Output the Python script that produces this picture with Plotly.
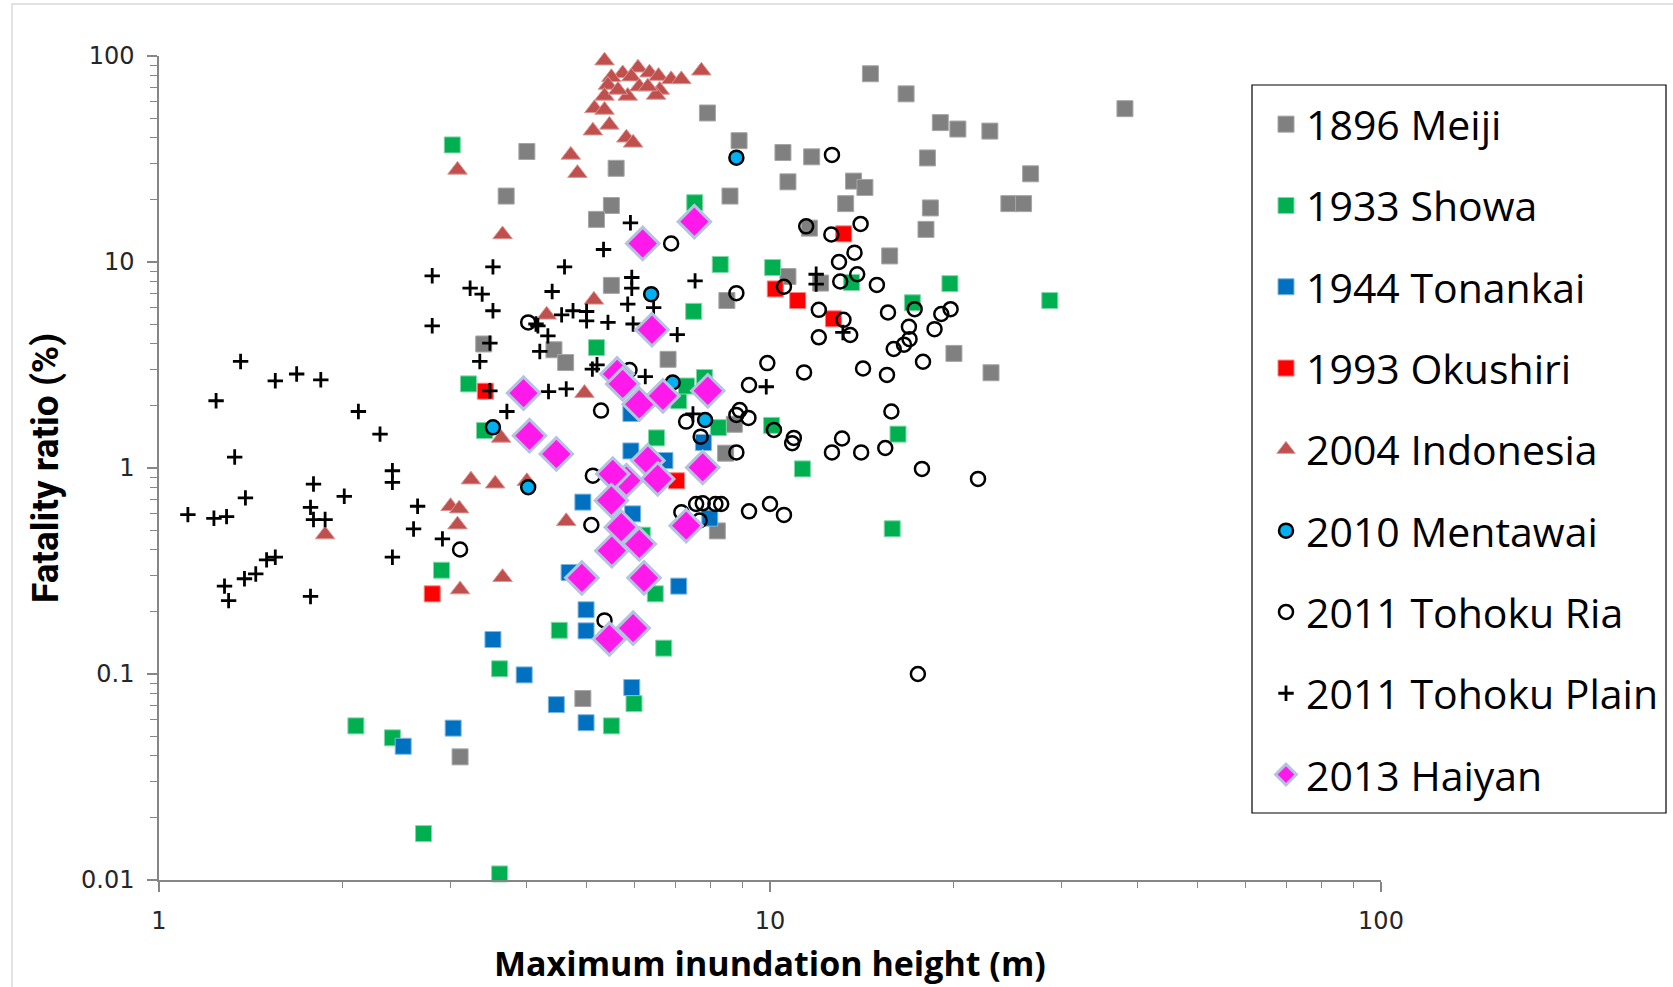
import plotly.graph_objects as go

# ---------------- data ----------------
meiji_x = [14.6, 16.7, 38.1, 7.9, 19.0, 20.3, 22.9, 8.9, 4.0, 10.5, 11.7, 18.1, 5.6, 26.7, 13.7, 10.7,
           14.3, 3.7, 8.6, 13.3, 24.6, 26.0, 5.5, 18.3, 5.2, 18.0, 11.6, 15.7, 5.5, 8.5, 10.7, 12.1,
           20.0, 23.0, 3.4, 4.43, 4.63, 6.81, 8.46, 8.74, 8.2, 4.94, 3.11]
meiji_y = [82, 65.5, 55.5, 52.9, 47.5, 44.2, 43.2, 38.8, 34.4, 34, 32.4, 32, 28.5, 26.8, 24.7, 24.5,
           23, 20.9, 20.9, 19.2, 19.2, 19.2, 18.8, 18.3, 16.1, 14.4, 14.6, 10.7, 7.7, 6.5, 8.5, 7.9,
           3.6, 2.9, 4.0, 3.75, 3.25, 3.37, 1.18, 1.63, 0.495, 0.076, 0.0396]

showa_x = [3.02, 7.53, 8.29, 10.1, 13.6, 17.1, 19.7, 28.7, 10.06, 16.2, 11.3, 15.85, 7.5, 5.2, 3.21,
           3.41, 6.52, 8.23, 7.09, 7.81, 7.3, 6.18, 2.9, 6.49, 4.52, 6.7, 3.61, 5.99, 5.5, 2.1, 2.41,
           2.71, 3.61]
showa_y = [37.0, 19.4, 9.73, 9.4, 7.95, 6.34, 7.85, 6.5, 1.61, 1.46, 0.99, 0.507, 5.76, 3.84, 2.56,
           1.52, 1.40, 1.57, 2.12, 2.75, 2.5, 0.472, 0.319, 0.245, 0.163, 0.1335, 0.106, 0.0718, 0.056,
           0.056, 0.049, 0.0168, 0.0107]

tonankai_x = [4.94, 5.96, 7.97, 4.69, 7.09, 5.0, 5.0, 3.52, 3.96, 5.94, 4.47, 5.0, 3.03, 2.51,
              5.92, 5.92, 6.73, 7.78]
tonankai_y = [0.683, 0.599, 0.571, 0.311, 0.267, 0.205, 0.162, 0.147, 0.099, 0.086, 0.071, 0.058,
              0.0546, 0.0446, 1.84, 1.21, 1.087, 1.33]

okushiri_x = [13.2, 10.2, 11.1, 12.7, 3.42, 7.03, 2.8]
okushiri_y = [13.7, 7.4, 6.5, 5.3, 2.36, 0.867, 0.245]

indonesia_x = [5.36, 7.72, 6.08, 5.74, 6.35, 6.57, 6.89, 7.16, 5.50, 5.93, 5.43, 6.11, 6.60, 5.36,
               5.85, 6.51, 5.16, 5.36, 5.46, 5.13, 5.82, 5.97, 5.64, 6.31,
               4.72, 4.84, 3.08, 3.65, 5.15, 4.31, 4.97, 3.63, 3.24, 3.55, 4.0, 3.0, 3.10, 3.08,
               3.65, 3.11, 4.64, 1.87]
indonesia_y = [94.9, 84.8, 87.7, 82.3, 83, 79.9, 77, 77, 78.8, 79.4, 72.3, 71, 68.4, 64,
               64, 64.7, 55.7, 54.7, 46.3, 43.4, 40.1, 37.9, 68.4, 71,
               33.1, 27, 28, 13.6, 6.55, 5.54, 2.31, 1.40, 0.878, 0.839, 0.862, 0.652, 0.635, 0.531,
               0.295, 0.257, 0.551, 0.475]

mentawai_x = [8.81, 6.39, 6.93, 7.83, 3.52, 4.02]
mentawai_y = [32.1, 6.98, 2.60, 1.71, 1.575, 0.806]

ria_x = [12.63, 11.46, 12.6, 14.07, 13.75, 12.97, 13.89, 13.03, 14.96, 10.54, 8.81, 12.02, 13.19,
         15.6, 17.25, 19.07, 19.75, 16.88, 18.59, 12.02, 13.53, 16.92, 16.57, 15.94, 17.8, 14.2,
         15.54, 9.9, 11.37, 9.24, 15.8, 8.92, 8.81, 9.22, 10.15, 10.94, 10.87, 13.12, 12.63, 14.1,
         15.44, 8.81, 17.73, 21.9, 8.32, 9.24, 10.0, 10.54, 4.02, 5.89, 5.29, 7.29, 7.7, 5.13,
         3.11, 5.1, 5.36, 7.16, 7.57, 7.76, 8.14, 7.67, 17.46, 6.89]
ria_y = [33.1, 14.9, 13.6, 15.3, 11.1, 10.0, 8.72, 8.04, 7.74, 7.58, 7.06, 5.86, 5.24,
         5.69, 5.9, 5.59, 5.9, 4.85, 4.72, 4.31, 4.42, 4.22, 3.97, 3.78, 3.28, 3.04,
         2.83, 3.23, 2.91, 2.53, 1.88, 1.91, 1.81, 1.75, 1.53, 1.40, 1.32, 1.39, 1.19, 1.19,
         1.25, 1.19, 0.99, 0.885, 0.669, 0.616, 0.669, 0.592, 5.09, 2.99, 1.90, 1.68, 1.42, 0.918,
         0.402, 0.529, 0.182, 0.61, 0.669, 0.674, 0.669, 0.556, 0.1, 12.3]

plain_x = [2.80, 3.52, 3.23, 3.38, 3.52, 2.80, 4.61, 4.40, 4.56, 4.17, 4.33, 1.36, 1.24, 1.55, 1.68,
           1.84, 2.12, 2.30, 1.33, 2.41, 2.41, 1.79, 1.385, 2.01, 1.115, 1.23, 1.29, 1.77, 1.79, 1.87,
           2.65, 2.61, 2.91, 2.41, 1.55, 1.50, 1.44, 1.38, 1.28, 1.30, 1.77, 3.48, 3.35, 3.48, 3.71,
           4.20, 4.34, 4.64, 5.94, 5.94, 5.85, 7.54, 6.45, 4.76, 5.01, 5.01, 5.43, 5.97, 7.05, 4.14,
           5.12, 5.21, 6.25, 7.48, 5.91, 5.34, 11.9, 11.9, 9.86, 13.16]
plain_y = [8.57, 9.47, 7.46, 6.98, 5.80, 4.90, 9.47, 7.19, 5.54, 4.90, 4.38, 3.29, 2.12, 2.65, 2.86,
           2.68, 1.88, 1.46, 1.13, 0.97, 0.852, 0.836, 0.716, 0.729, 0.594, 0.57, 0.581, 0.644, 0.562,
           0.562, 0.652, 0.506, 0.453, 0.369, 0.369, 0.358, 0.306, 0.29, 0.267, 0.227, 0.238, 4.04,
           3.29, 2.37, 1.88, 3.68, 2.35, 2.42, 8.41, 7.46, 6.24, 8.1, 6.0, 5.8, 5.75, 5.18, 5.09, 5.0,
           4.44, 5.0, 3.02, 3.17, 2.78, 1.83, 15.5, 11.5, 8.72, 7.81, 2.48, 4.55]

haiyan_x = [7.52, 6.19, 6.41, 3.95, 4.04, 4.47, 5.62, 5.74, 6.11, 6.68, 7.91, 7.76, 6.31, 6.55,
            5.82, 5.53, 5.50, 5.71, 6.11, 5.51, 7.29, 4.92, 6.22, 5.97, 5.46]
haiyan_y = [15.7, 12.3, 4.69, 2.31, 1.435, 1.17, 2.86, 2.56, 2.04, 2.24, 2.37, 1.007, 1.086, 0.885,
            0.868, 0.935, 0.695, 0.516, 0.428, 0.397, 0.525, 0.293, 0.293, 0.167, 0.148]

y_tickvals = [0.01, 0.1, 1, 10, 100]
y_ticktext = ["0.01", "0.1", "1", "10", "100"]
x_tickvals = [1, 10, 100]
x_ticktext = ["1", "10", "100"]

# ---------------- figure ----------------
W, H = 1673, 987
ML, MR, MT, MB = 159, 292, 56, 107
PW, PH = W - ML - MR, H - MT - MB


def px_x(p):
    return (p - ML) / PW


def px_y(p):
    return (H - MB - p) / PH


series = [
    ("1896 Meiji", meiji_x, meiji_y, dict(symbol="square", size=16, color="#808080",
                                           line=dict(color="#A6A6A6", width=1))),
    ("1933 Showa", showa_x, showa_y, dict(symbol="square", size=16, color="#00B050",
                                           line=dict(color="#7FD8A8", width=1))),
    ("1944 Tonankai", tonankai_x, tonankai_y, dict(symbol="square", size=16, color="#0070C0",
                                                    line=dict(color="#7FB7E0", width=1))),
    ("1993 Okushiri", okushiri_x, okushiri_y, dict(symbol="square", size=16, color="#FF0000",
                                                    line=dict(color="#FF8080", width=1))),
    ("2004 Indonesia", indonesia_x, indonesia_y, dict(symbol="triangle-up", size=17, color="#C0504D",
                                                       line=dict(color="#D99694", width=1))),
    ("2010 Mentawai", mentawai_x, mentawai_y, dict(symbol="circle", size=14, color="#00B0F0",
                                                    line=dict(color="#000000", width=2.5))),
    ("2011 Tohoku Ria", ria_x, ria_y, dict(symbol="circle-open", size=14, color="#000000",
                                            line=dict(color="#000000", width=2.5))),
    ("2011 Tohoku Plain", plain_x, plain_y, dict(symbol="cross-thin", size=11, color="#000000",
                                                  line=dict(color="#000000", width=2.8))),
    ("2013 Haiyan", haiyan_x, haiyan_y, dict(symbol="diamond", size=25, color="#FF1AEB",
                                              line=dict(color="#B4C4E0", width=3))),
]

fig = go.Figure()
for i, (name, xs, ys, mk) in enumerate(series):
    fig.add_trace(go.Scatter(x=xs, y=ys, mode="markers", name=name, marker=mk,
                             legendgroup="g%d" % i, cliponaxis=False))

axis_color = "#868686"
fig.update_layout(
    width=W, height=H,
    margin=dict(l=ML, r=MR, t=MT, b=MB, autoexpand=False),
    paper_bgcolor="white", plot_bgcolor="white",
    showlegend=True,
    legend=dict(
        x=px_x(1266), y=px_y(91),
        xanchor="left", yanchor="top",
        borderwidth=0, bgcolor="rgba(255,255,255,0)",
        font=dict(family="Open Sans", size=41, color="#000000"),
        tracegroupgap=25, itemsizing="trace",
    ),
    xaxis=dict(
        type="log", range=[0, 2], showgrid=False, zeroline=False,
        showline=True, linecolor=axis_color, linewidth=1.5,
        ticks="outside", ticklen=10, tickwidth=1.5, tickcolor=axis_color,
        tickvals=x_tickvals, ticktext=x_ticktext, ticklabelstandoff=8,
        tickfont=dict(family="DejaVu Sans", size=24, color="#262626"),
        minor=dict(ticks="outside", ticklen=6, tickwidth=1, tickcolor=axis_color,
                   dtick="D1", showgrid=False),
    ),
    yaxis=dict(
        type="log", range=[-2, 2], showgrid=False, zeroline=False,
        showline=True, linecolor=axis_color, linewidth=1.5,
        ticks="outside", ticklen=10, tickwidth=1.5, tickcolor=axis_color,
        tickvals=y_tickvals, ticktext=y_ticktext, ticklabelstandoff=8,
        tickfont=dict(family="DejaVu Sans", size=24, color="#262626"),
        minor=dict(ticks="outside", ticklen=7, tickwidth=1, tickcolor=axis_color,
                   dtick="D1", showgrid=False),
    ),
    annotations=[
        dict(text="<b>Maximum inundation height (m)</b>", xref="paper", yref="paper",
             x=0.5, y=0, yanchor="middle", yshift=-(963 - (H - MB)), showarrow=False,
             font=dict(family="Open Sans", size=34, color="#000000")),
        dict(text="<b>Fatality ratio (%)</b>", xref="paper", yref="paper",
             x=0, y=0.5, xanchor="center", xshift=-(ML - 45), textangle=-90, showarrow=False,
             font=dict(family="Roboto", size=37, color="#000000")),
    ],
    shapes=[
        dict(type="rect", xref="paper", yref="paper",
             x0=px_x(12), x1=1.5, y0=-0.5, y1=px_y(4),
             line=dict(color="#D9D9D9", width=1.5), fillcolor="rgba(0,0,0,0)", layer="below"),
        dict(type="rect", xref="paper", yref="paper",
             x0=px_x(1252), x1=px_x(1666), y0=px_y(813), y1=px_y(85),
             line=dict(color="#000000", width=1.2), fillcolor="white", layer="below"),
    ],
)

fig.write_html("out.html", config={"displayModeBar": False},
               post_script="document.body.style.margin='0px';")
